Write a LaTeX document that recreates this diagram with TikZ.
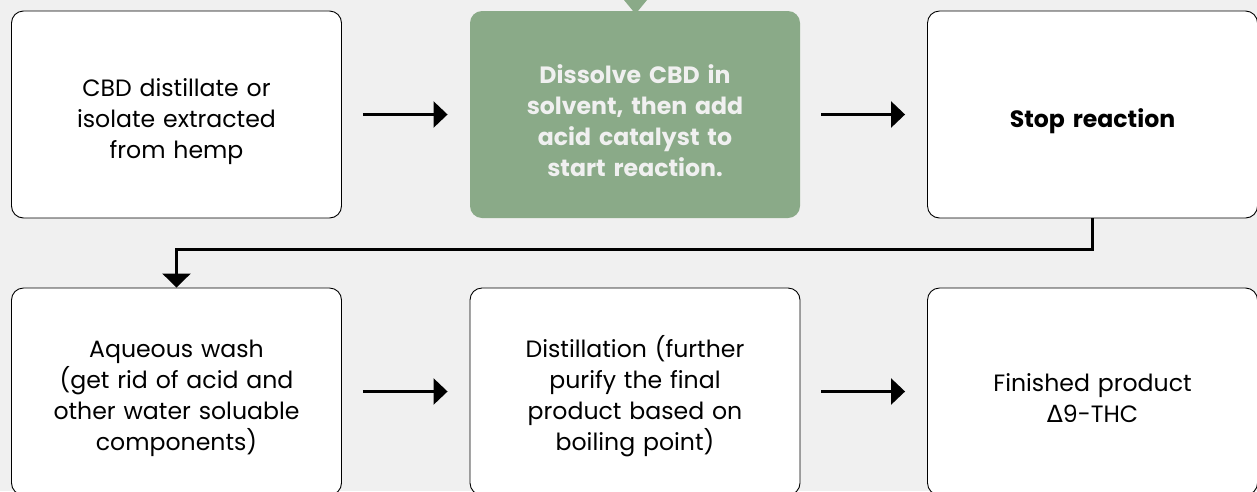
\documentclass[tikz,border=0pt]{standalone}
\usepackage{fontspec}
\setmainfont{Poppins}
\newfontfamily\greekfont{DejaVu Sans}
\usetikzlibrary{arrows.meta}
\definecolor{bggray}{HTML}{F0F0F0}
\definecolor{sage}{HTML}{8AAA88}
\begin{document}
\begin{tikzpicture}[x=1pt,y=-1pt,
    stepbox/.style={draw=black,line width=0.9pt,fill=white,rounded corners=12pt,
        minimum width=330pt,minimum height=207pt,align=center,text width=310pt,
        font=\fontsize{23.6}{31}\selectfont,execute at begin node={\rule{0pt}{32pt}}},
    greenbox/.style={stepbox,draw=none,fill=sage,text=bggray,font=\fontsize{23.6}{31}\selectfont\bfseries},
    flow/.style={line width=2.4pt,-{Triangle[length=14pt,width=26pt]}}]
    \useasboundingbox[fill=bggray] (0,0) rectangle (1257,491);
    \fill[sage] (624,0) -- (647,0) -- (635.5,14) -- cycle;
    \node[stepbox] (cbd) at (176.5,114.5) {CBD distillate or\\isolate extracted\\from hemp};
    \node[greenbox] (dissolve) at (635,114.5) {Dissolve CBD in\\solvent, then add\\acid catalyst to\\start reaction.};
    \node[stepbox] (stop) at (1092.5,114.5) {\bfseries Stop reaction};
    \node[stepbox] (wash) at (176.5,391.5) {Aqueous wash\\(get rid of acid and\\other water soluable\\components)};
    \node[stepbox] (distil) at (635,391.5) {Distillation (further\\purify the final\\product based on\\boiling point)};
    \node[stepbox] (product) at (1092.5,391.5) {Finished product\\{\greekfont Δ}9-THC};
    \draw[flow,shorten <=21pt,shorten >=22pt] (cbd.east) -- (dissolve.west);
    \draw[flow,shorten <=21pt,shorten >=22pt] (dissolve.east) -- (stop.west);
    \draw[flow,shorten <=21pt,shorten >=22pt] (wash.east) -- (distil.west);
    \draw[flow,shorten <=21pt,shorten >=22pt] (distil.east) -- (product.west);
    \draw[flow,-{Triangle[length=14pt,width=28pt]}] (stop.south) -- ++(0,31) -| (wash.north);
\end{tikzpicture}
\end{document}
